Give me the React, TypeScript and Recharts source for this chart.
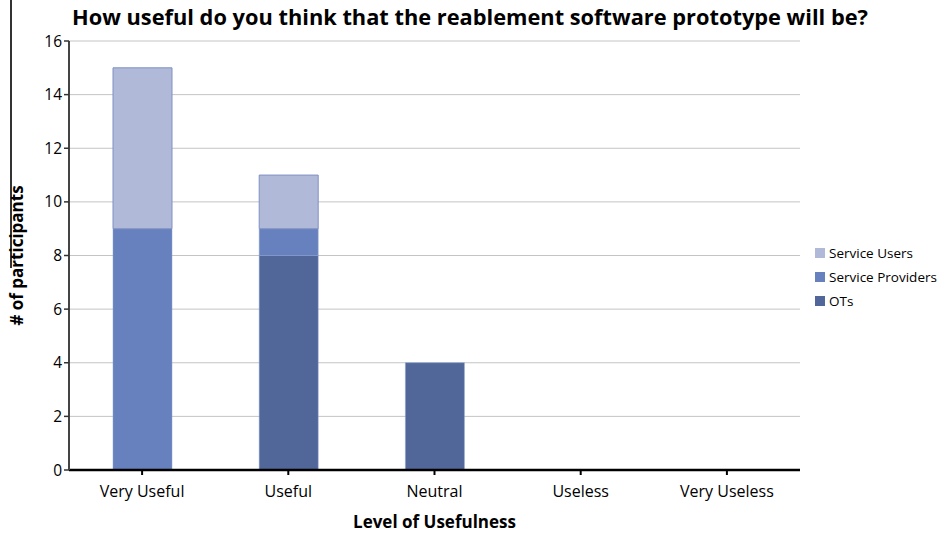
import React from "react";
import { Bar, BarChart, CartesianGrid, XAxis, YAxis } from "recharts";

const CATEGORIES = ["Very Useful", "Useful", "Neutral", "Useless", "Very Useless"];
const OTS = [0, 8, 4, 0, 0];
const SERVICE_PROVIDERS = [9, 1, 0, 0, 0];
const SERVICE_USERS = [6, 2, 0, 0, 0];
const Y_TICKS = [0, 2, 4, 6, 8, 10, 12, 14, 16];

const FONT = "'Open Sans', Lato, sans-serif";

// stacked bottom to top; legend lists them top to bottom
const SERIES = [
  { key: "ots", name: "OTs", color: "#516699" },
  { key: "providers", name: "Service Providers", color: "#6681bd" },
  { key: "users", name: "Service Users", color: "#b1b9d9" },
];

const data = CATEGORIES.map((name, i) => ({
  name,
  ots: OTS[i],
  providers: SERVICE_PROVIDERS[i],
  users: SERVICE_USERS[i],
}));

function LegendBox() {
  return (
    <div
      style={{
        position: "absolute",
        left: 815,
        top: 241,
        fontFamily: FONT,
        fontSize: 13.5,
        color: "#000",
      }}
    >
      {[...SERIES].reverse().map((s) => (
        <div key={s.key} style={{ display: "flex", alignItems: "center", height: 24, whiteSpace: "nowrap" }}>
          <span style={{ width: 10, height: 10, background: s.color, marginRight: 4 }} />
          {s.name}
        </div>
      ))}
    </div>
  );
}

export default function App() {
  return (
    <div style={{ position: "relative", width: 942, height: 534, background: "#fff" }}>
      <style>{`body{margin:0}`}</style>
      <div style={{ position: "absolute", left: 10, top: 0, width: 1.5, height: 268, background: "#333" }} />
      <div
        style={{
          position: "absolute",
          left: 72,
          top: 2,
          fontFamily: FONT,
          fontWeight: 700,
          fontSize: 21.8,
          color: "#000",
          whiteSpace: "nowrap",
        }}
      >
        How useful do you think that the reablement software prototype will be?
      </div>
      <BarChart
        width={942}
        height={534}
        data={data}
        margin={{ top: 41, right: 142, bottom: 30, left: 29 }}
        barSize={59}
      >
        <CartesianGrid vertical={false} stroke="#c4c4c4" strokeWidth={1} />
        <XAxis
          dataKey="name"
          tick={{ fill: "#000", fontSize: 16, fontFamily: FONT }}
          tickLine={{ stroke: "#000", strokeWidth: 2 }}
          axisLine={{ stroke: "#000", strokeWidth: 2.5 }}
          tickSize={5}
          tickMargin={11}
          height={34}
          interval={0}
          label={{
            value: "Level of Usefulness",
            position: "insideBottom",
            offset: -24,
            fill: "#000",
            fontSize: 17,
            fontWeight: 700,
            fontFamily: FONT,
          }}
        />
        <YAxis
          domain={[0, 16]}
          ticks={Y_TICKS}
          width={40}
          tick={{ fill: "#000", fontSize: 15.5, fontFamily: FONT }}
          tickLine={{ stroke: "#333", strokeWidth: 1.5 }}
          axisLine={{ stroke: "#444", strokeWidth: 2 }}
          tickSize={5}
          interval={0}
          label={{
            value: "# of participants",
            angle: -90,
            position: "insideLeft",
            offset: -12,
            style: { textAnchor: "middle" },
            fill: "#000",
            fontSize: 17,
            fontWeight: 700,
            fontFamily: FONT,
          }}
        />
        {SERIES.map((s) => (
          <Bar
            key={s.key}
            dataKey={s.key}
            name={s.name}
            stackId="a"
            fill={s.color}
            stroke={s.key === "users" ? "#8190c4" : "#8aa0d0"}
            strokeWidth={s.key === "users" ? 1 : 0.5}
            isAnimationActive={false}
          />
        ))}
      </BarChart>
      <LegendBox />
    </div>
  );
}
